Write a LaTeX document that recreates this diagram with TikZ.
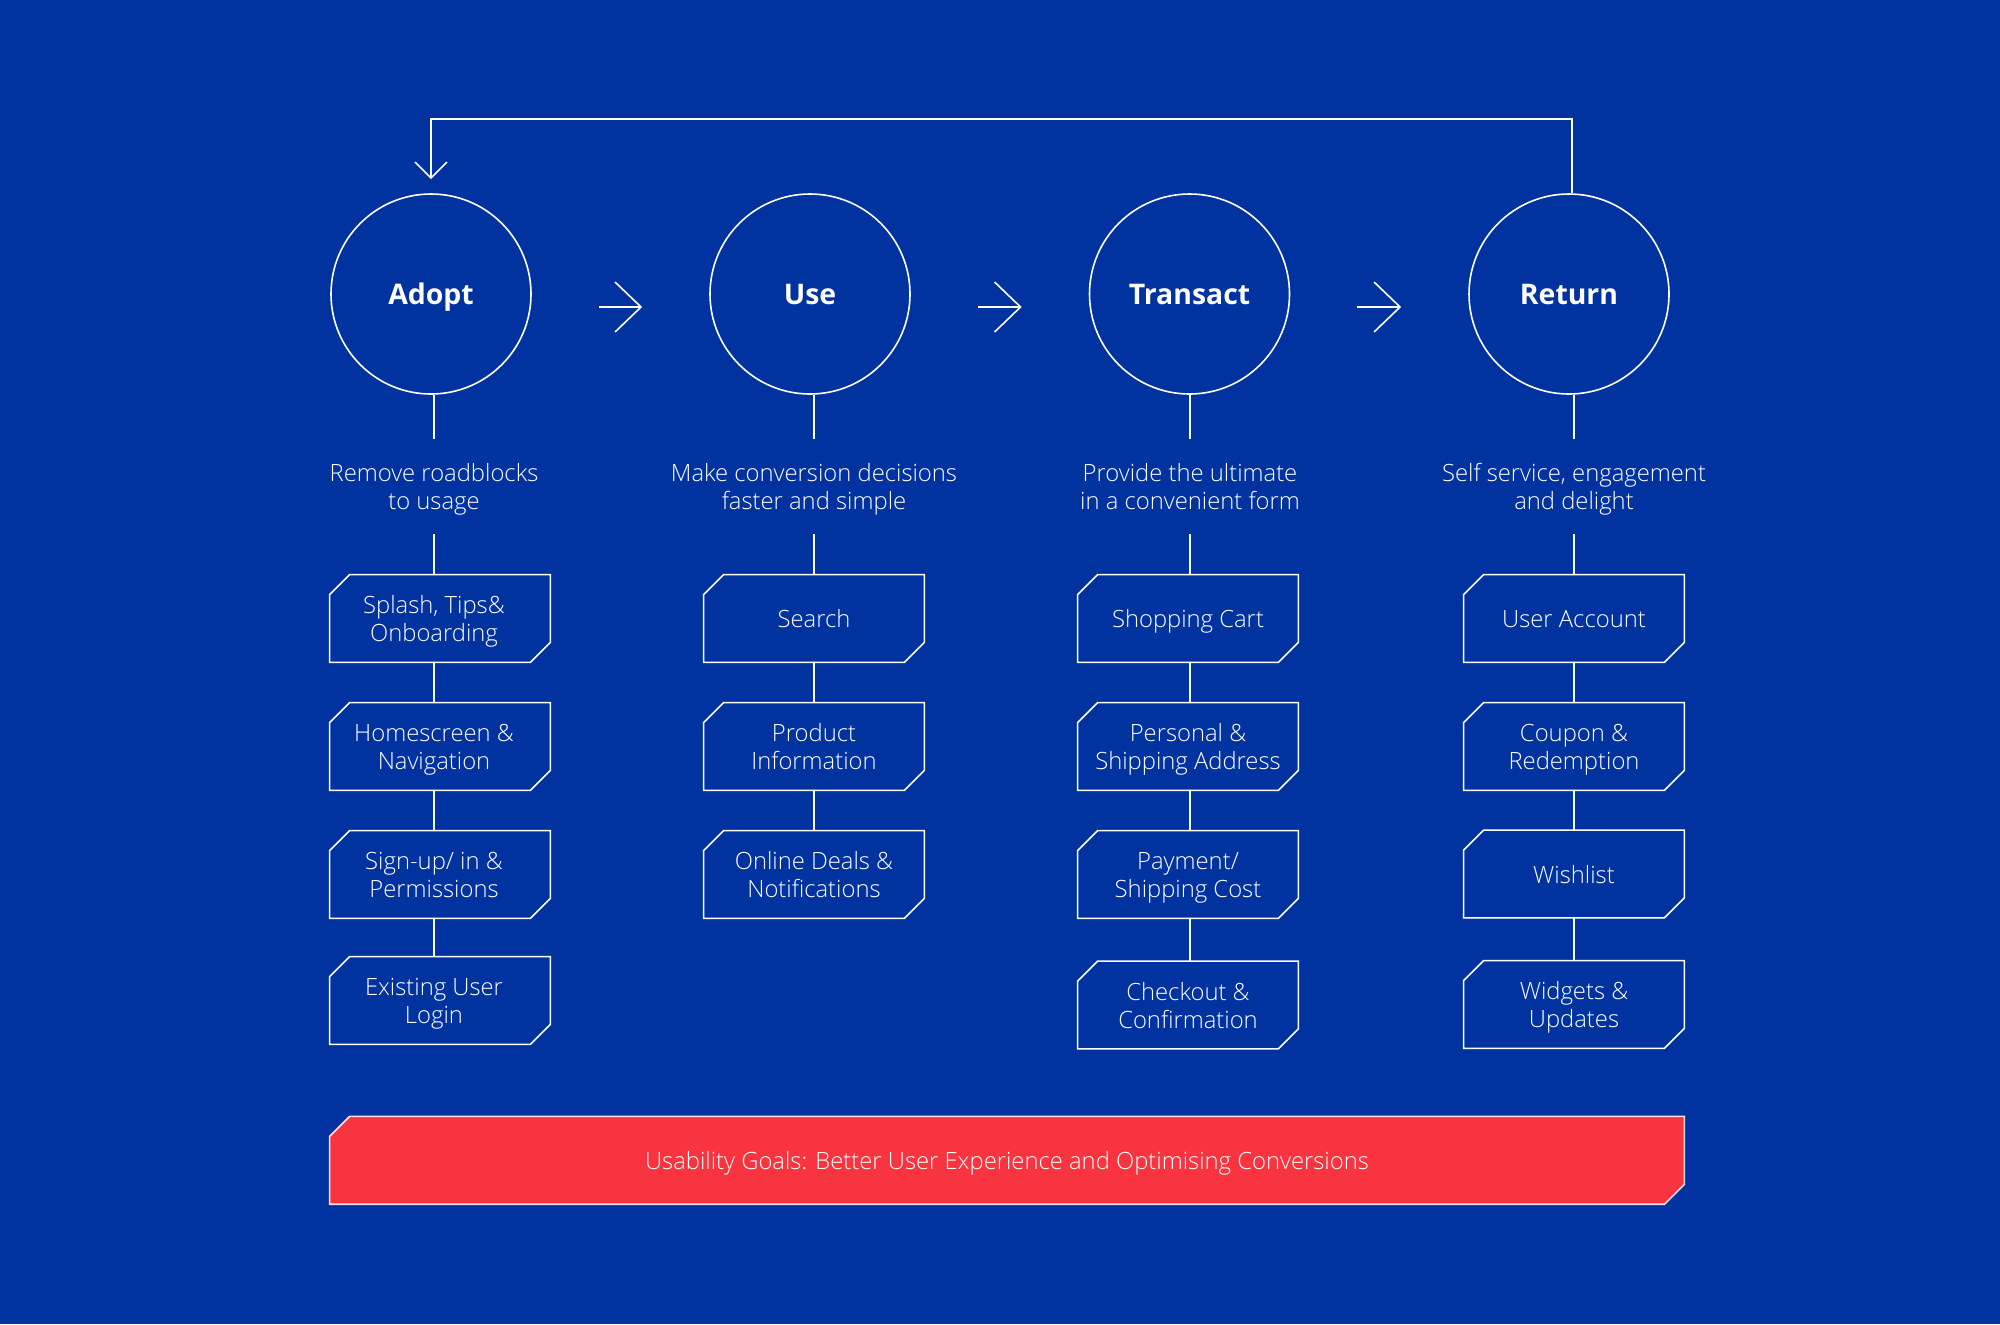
\documentclass[tikz,border=0pt]{standalone}
\usepackage{fontspec}
\setmainfont{Open Sans}
\newfontfamily\thinfont{Open Sans Light}
\IfFontExistsTF{Open Sans SemiBold}{\newfontfamily\semifont{Open Sans SemiBold}}{\newcommand\semifont{\bfseries}}
\usetikzlibrary{arrows.meta,backgrounds}
\definecolor{bgblue}{HTML}{0033A0}
\definecolor{goalred}{HTML}{F7343F}

\begin{document}
\begin{tikzpicture}[x=0.5pt,y=-0.5pt,
  every node/.style={text=white},
  phase/.style={circle,draw=white,line width=0.8pt,minimum size=100pt,inner sep=0pt,
    text height=10.2pt,text depth=0pt,font=\semifont\fontsize{14.2pt}{17pt}\selectfont},
  descr/.style={align=center,minimum height=47.5pt,inner sep=0pt,text depth=0pt,
    font=\thinfont\fontsize{11.9pt}{14pt}\selectfont},
  task/.style={rectangle,minimum width=110pt,minimum height=43.5pt,inner sep=0pt,align=center,
    text depth=0pt,font=\thinfont\fontsize{11.9pt}{14pt}\selectfont},
  banner/.style={task,minimum width=677pt},
  link/.style={draw=white,line width=0.8pt},
  flow/.style={link,-{Straight Barb[length=13pt,width=25pt]},shorten <=33.5pt,shorten >=33.5pt}]

  % phases
  \node[phase] (adopt) at (431,294) {Adopt};
  \node[phase] (use) at (810,294) {Use};
  \node[phase] (trans) at (1189.5,294) {Transact};
  \node[phase] (ret) at (1569,294) {Return};

  \node[descr] (adopt-d) at (434,486.5) {Remove roadblocks\\to usage};
  \node[descr] (use-d) at (814,486.5) {Make conversion decisions\\faster and simple};
  \node[descr] (trans-d) at (1190,486.5) {Provide the ultimate\\in a convenient form};
  \node[descr] (ret-d) at (1574,486.5) {Self service, engagement\\and delight};

  % screens
  \node[task] (a-1) at (434,618.5) {Splash, Tips\&\\Onboarding};
  \node[task] (a-2) at (434,746.5) {Homescreen \&\\Navigation};
  \node[task] (a-3) at (434,874.5) {Sign-up/ in \&\\Permissions};
  \node[task] (a-4) at (434,1000.5) {Existing User\\Login};
  \node[task] (u-1) at (814,618.5) {Search};
  \node[task] (u-2) at (814,746.5) {Product\\Information};
  \node[task] (u-3) at (814,874.5) {Online Deals \&\\Notifications};
  \node[task] (t-1) at (1188,618.5) {Shopping Cart};
  \node[task] (t-2) at (1188,746.5) {Personal \&\\Shipping Address};
  \node[task] (t-3) at (1188,874.5) {Payment/\\Shipping Cost};
  \node[task] (t-4) at (1188,1005) {Checkout \&\\Confirmation};
  \node[task] (r-1) at (1574,618.5) {User Account};
  \node[task] (r-2) at (1574,746.5) {Coupon \&\\Redemption};
  \node[task] (r-3) at (1574,874) {Wishlist};
  \node[task] (r-4) at (1574,1004.5) {Widgets \&\\Updates};

  \node[banner] (goal) at (1007,1160.3) {Usability Goals: Better User Experience and Optimising Conversions};

  % cut corners
  \foreach \b/\dx in {a-1/3,a-2/3,a-3/3,a-4/3,u-1/0,u-2/0,u-3/0,t-1/0,t-2/0,t-3/0,t-4/0,r-1/0,r-2/0,r-3/0,r-4/0}
    \draw[link] ([xshift=\dx pt,yshift=-10pt]\b.north west) -- ([xshift=\dx pt+10pt]\b.north west)
      -- ([xshift=\dx pt]\b.north east) -- ([xshift=\dx pt,yshift=10pt]\b.south east)
      -- ([xshift=\dx pt-10pt]\b.south east) -- ([xshift=\dx pt]\b.south west) -- cycle;
  \begin{scope}[on background layer]
    \fill[bgblue] (0,0) rectangle (2000,1324);
    \draw[link,draw=white!85!goalred,fill=goalred]
      ([yshift=-10pt]goal.north west) -- ([xshift=10pt]goal.north west) -- (goal.north east)
      -- ([yshift=10pt]goal.south east) -- ([xshift=-10pt]goal.south east) -- (goal.south west) -- cycle;
  \end{scope}

  \path
    ([yshift=-6.5pt]adopt.east) edge[flow] ([yshift=-6.5pt]use.west)
    ([yshift=-6.5pt]use.east) edge[flow] ([yshift=-6.5pt]trans.west)
    ([yshift=-6.5pt]trans.east) edge[flow] ([yshift=-6.5pt]ret.west);
  \draw[link,-{Straight Barb[length=8pt,width=16pt]}]
    ([xshift=1.5pt]ret.north) -- ++(0,-74) -| ([yshift=7pt]adopt.north);

  \path[link]
    (adopt-d.north) edge (adopt-d.north |- adopt.south)
    (adopt-d.south) edge (a-1.north)
    (a-1.south) edge (a-2.north)
    (a-2.south) edge (a-3.north)
    (a-3.south) edge (a-4.north)
    (use-d.north) edge (use-d.north |- use.south)
    (use-d.south) edge (u-1.north)
    (u-1.south) edge (u-2.north)
    (u-2.south) edge (u-3.north)
    (trans-d.north) edge (trans-d.north |- trans.south)
    (trans-d.south) edge (t-1.north -| trans-d)
    (t-1.south -| trans-d) edge (t-2.north -| trans-d)
    (t-2.south -| trans-d) edge (t-3.north -| trans-d)
    (t-3.south -| trans-d) edge (t-4.north -| trans-d)
    (ret-d.north) edge (ret-d.north |- ret.south)
    (ret-d.south) edge (r-1.north)
    (r-1.south) edge (r-2.north)
    (r-2.south) edge (r-3.north)
    (r-3.south) edge (r-4.north);
\end{tikzpicture}
\end{document}
